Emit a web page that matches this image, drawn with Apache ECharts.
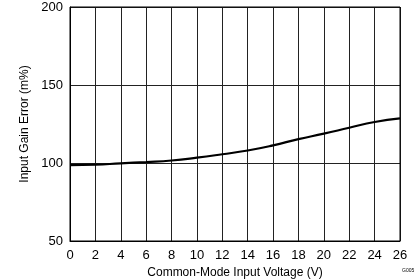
<!DOCTYPE html>
<html><head><meta charset="utf-8">
<script src="https://cdn.jsdelivr.net/npm/echarts@6/dist/echarts.min.js"></script>
<style>html,body{margin:0;padding:0;background:#fff}#c{width:419px;height:279px}</style>
</head><body><div id="c"></div>
<script>
const voltage = [0, 2, 4, 6, 8, 10, 12, 14, 16, 18, 20, 22, 24, 26];
const gainError = [98.6, 98.9, 99.8, 100.6, 101.6, 103.4, 105.6, 108.0, 111.3, 115.3, 118.8, 122.6, 126.3, 128.6];
const xTicks = {min: 0, max: 26, interval: 2};
const yTicks = {min: 50, max: 200, interval: 50};
const font = 'Liberation Sans, Arial, sans-serif';
const chart = echarts.init(document.getElementById('c'));
chart.setOption({
  animation: false,
  grid: {left: 70, right: 19, top: 7, bottom: 38, containLabel: false, outerBoundsMode: 'none'},
  xAxis: {
    type: 'value', min: xTicks.min, max: xTicks.max, interval: xTicks.interval,
    name: 'Common-Mode Input Voltage (V)', nameLocation: 'middle', nameGap: 24,
    nameTextStyle: {color: '#000', fontSize: 12, fontFamily: font},
    axisLine: {show: true, onZero: false, lineStyle: {color: '#000', width: 1}},
    axisTick: {show: false},
    axisLabel: {color: '#000', fontSize: 13, fontFamily: font, margin: 8},
    splitLine: {show: true, lineStyle: {color: '#222', width: 1}}
  },
  yAxis: {
    type: 'value', min: yTicks.min, max: yTicks.max, interval: yTicks.interval,
    name: 'Input Gain Error (m%)', nameLocation: 'middle', nameGap: 35,
    nameTextStyle: {color: '#000', fontSize: 12, fontFamily: font},
    axisLine: {show: true, lineStyle: {color: '#000', width: 1}},
    axisTick: {show: false},
    axisLabel: {color: '#000', fontSize: 13, fontFamily: font, margin: 7},
    splitLine: {show: true, lineStyle: {color: '#222', width: 1}}
  },
  series: [{
    type: 'line', data: voltage.map((v, i) => [v, gainError[i]]),
    smooth: true, symbol: 'none', lineStyle: {color: '#000', width: 2.2}
  }],
  graphic: [
    {type: 'rect', shape: {x: 70, y: 7, width: 330, height: 234}, style: {fill: 'none', stroke: '#000', lineWidth: 1}, silent: true, z: 10},
    {type: 'text', left: 402, top: 268, style: {text: 'G005', fontSize: 5, fill: '#000', fontFamily: font}}
  ]
});
</script></body></html>
